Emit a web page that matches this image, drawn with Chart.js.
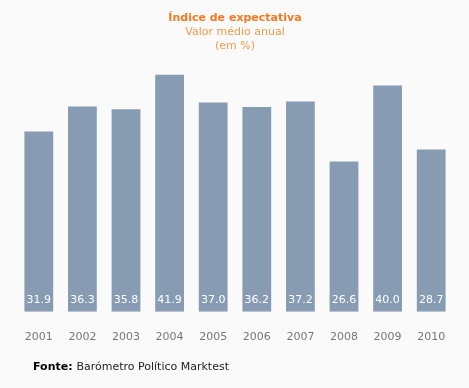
<!DOCTYPE html>
<html>
<head>
<meta charset="utf-8">
<script src="https://cdn.jsdelivr.net/npm/chart.js@4/dist/chart.umd.min.js"></script>
<style>
  html, body { margin: 0; padding: 0; background: #fafafa; }
  #wrap { width: 469px; height: 388px; }
</style>
</head>
<body>
<div id="wrap"><canvas id="expectChart" width="469" height="388"></canvas></div>
<script>
const years = ["2001", "2002", "2003", "2004", "2005", "2006", "2007", "2008", "2009", "2010"];
const expectativa = [31.9, 36.3, 35.8, 41.9, 37.0, 36.2, 37.2, 26.6, 40.0, 28.7];

const fontFamily = "'DejaVu Sans', Verdana, sans-serif";

// white values inside the foot of each bar
const barValues = {
  id: "barValues",
  afterDatasetsDraw(chart) {
    const ctx = chart.ctx;
    const meta = chart.getDatasetMeta(0);
    ctx.save();
    ctx.fillStyle = "#ffffff";
    ctx.font = "11px " + fontFamily;
    ctx.textAlign = "center";
    ctx.textBaseline = "middle";
    meta.data.forEach((bar, i) => {
      ctx.fillText(expectativa[i].toFixed(1), bar.x, bar.base - 12);
    });
    ctx.restore();
  },
};

// source line at the bottom
const sourceNote = {
  id: "sourceNote",
  afterDraw(chart) {
    const ctx = chart.ctx;
    ctx.save();
    ctx.textBaseline = "middle";
    ctx.textAlign = "left";
    ctx.fillStyle = "#000000";
    ctx.font = "bold 11px " + fontFamily;
    ctx.fillText("Fonte:", 33, 367);
    const w = ctx.measureText("Fonte: ").width;
    ctx.fillStyle = "#222222";
    ctx.font = "11px " + fontFamily;
    ctx.fillText("Barómetro Político Marktest", 33 + w, 367);
    ctx.restore();
  },
};

new Chart(document.getElementById("expectChart"), {
  type: "bar",
  data: {
    labels: years,
    datasets: [
      {
        label: "Índice de expectativa",
        data: expectativa,
        backgroundColor: "#879bb3",
        borderWidth: 0,
        barPercentage: 0.66,
        categoryPercentage: 1.0,
      },
    ],
  },
  options: {
    responsive: false,
    animation: false,
    layout: {
      padding: { left: 17, right: 16, top: 0, bottom: 33 },
    },
    scales: {
      x: {
        grid: { display: false },
        border: { display: false },
        ticks: {
          color: "#777777",
          font: { family: fontFamily, size: 11 },
          padding: 11,
        },
      },
      y: {
        display: false,
        min: 0,
        max: 44.05,
      },
    },
    plugins: {
      legend: { display: false },
      tooltip: { enabled: false },
      title: {
        display: true,
        text: "Índice de expectativa",
        color: "#f47a20",
        font: { family: fontFamily, size: 11, weight: "bold", lineHeight: 1.2 },
        padding: { top: 12, bottom: 0 },
      },
      subtitle: {
        display: true,
        text: ["Valor médio anual", "(em %)"],
        color: "#f39a4a",
        font: { family: fontFamily, size: 11, lineHeight: 1.25 },
        padding: { top: 0, bottom: 10 },
      },
    },
  },
  plugins: [barValues, sourceNote],
});
</script>
</body>
</html>
